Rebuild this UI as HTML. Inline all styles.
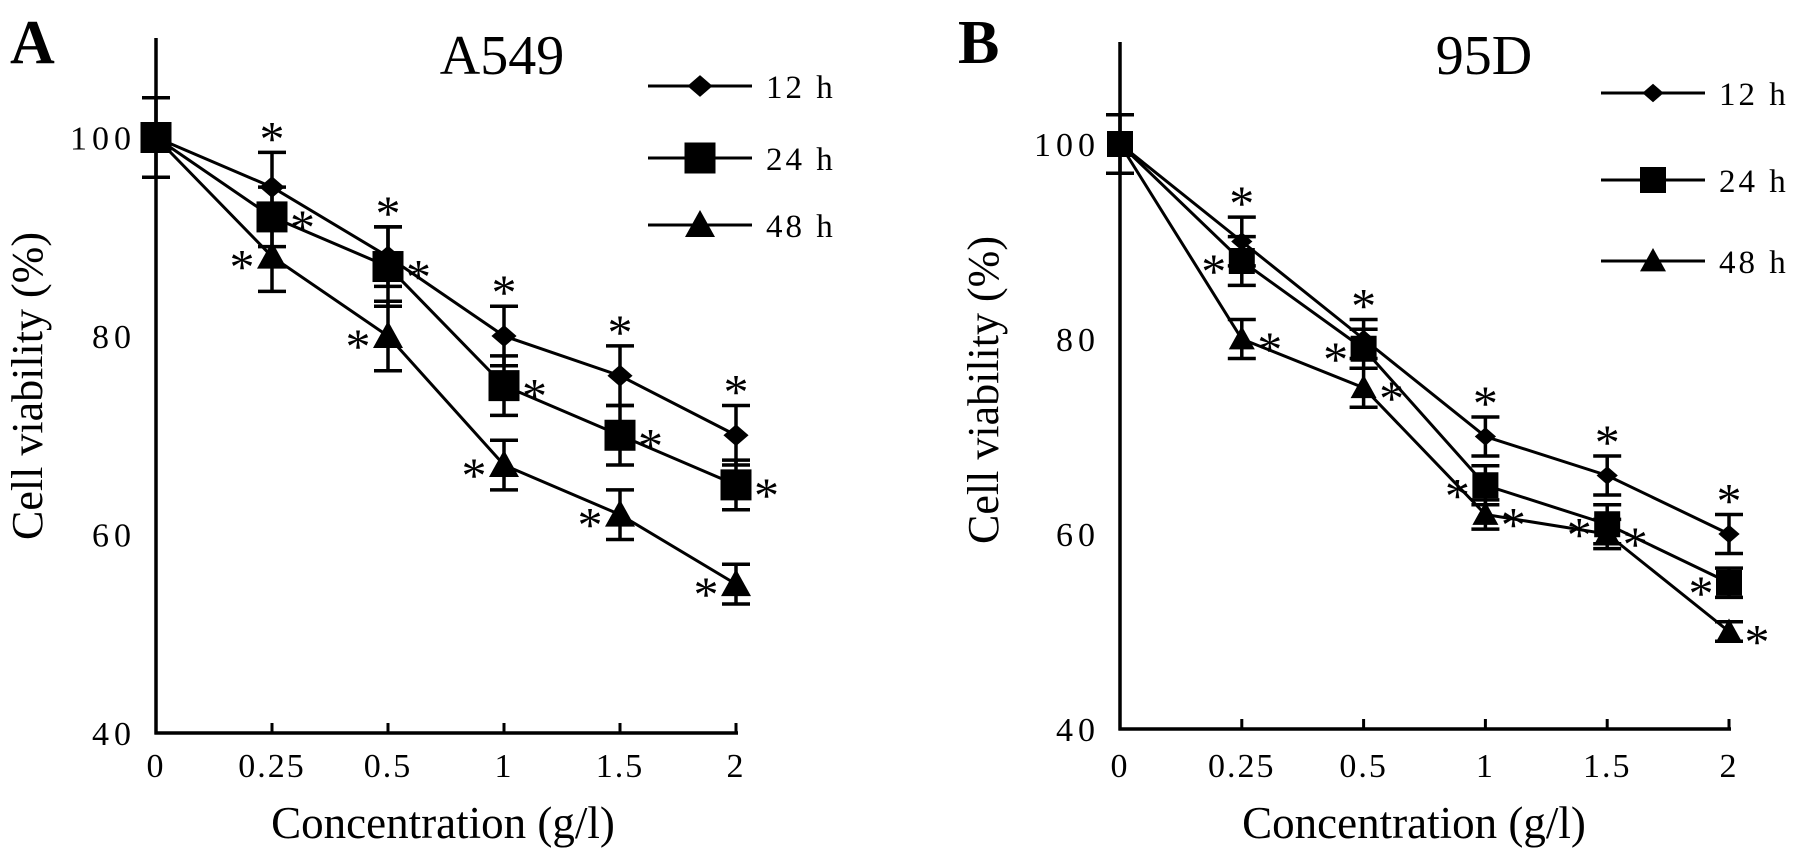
<!DOCTYPE html>
<html><head><meta charset="utf-8">
<style>
html,body{margin:0;padding:0;background:#fff;}
svg{display:block;}
text{font-family:"Liberation Serif",serif;fill:#000;}
</style></head>
<body>
<svg id="fig" width="1795" height="862" viewBox="0 0 1795 862" xmlns="http://www.w3.org/2000/svg"></svg>
<script>
const categories = ["0","0.25","0.5","1","1.5","2"];
const yTicks = [40,60,80,100];
const seriesNames = ["12 h","24 h","48 h"];
// Panel A (A549)
const a12 = [100,95,88,80,76,70];
const a24 = [100,92,87,75,70,65];
const a48 = [100,88,80,67,62,55];
const a12err = [0,3.5,3,3,3,3];
const a24err = [4,3,4,3,3,2.5];
const a48err = [0,3.5,3.5,2.5,2.5,2];
// Panel B (95D)
const b12 = [100,90,80,70,66,60];
const b24 = [100,88,79,65,61,55];
const b48 = [100,80,75,62,60,50];
const b12err = [0,2.5,2,2,2,2];
const b24err = [3,2.5,2,2,2,1.5];
const b48err = [0,2,2,1.5,1.5,1];

const NS="http://www.w3.org/2000/svg";
const svg=document.getElementById('fig');
function mk(tag,attrs,parent){const e=document.createElementNS(NS,tag);for(const k in attrs)e.setAttribute(k,attrs[k]);(parent||svg).appendChild(e);return e;}

function panel(cfg){
  const g=mk('g',{});
  
  
  const x=i=>cfg.x0+i*cfg.dx;
  const y=v=>cfg.yBottom-(v-40)*cfg.per;
  const ax=mk('line',{x1:cfg.x0,y1:cfg.yTop,x2:cfg.x0,y2:cfg.yBottom+1.5,stroke:'#000','stroke-width':3.5},g);
  
  
  const bx=mk('line',{x1:cfg.x0-1.5,y1:cfg.yBottom,x2:x(5)+2,y2:cfg.yBottom,stroke:'#000','stroke-width':3.5},g);
  
  
  categories.forEach((c,i)=>{
    if(i>0) mk('line',{x1:x(i),y1:cfg.yBottom,x2:x(i),y2:cfg.yBottom-10,stroke:'#000','stroke-width':3},g);
    const t=mk('text',{x:x(i),y:777,'font-size':34,'text-anchor':'middle','letter-spacing':2},g);
    t.textContent=c;
    
    
  });
  yTicks.forEach(v=>{
    const t=mk('text',{x:cfg.x0-20,y:y(v)+12,'font-size':34,'text-anchor':'end','letter-spacing':5},g);
    t.textContent=String(v);
    
    
  });
  const yl=mk('text',{x:0,y:0,'font-size':44,'text-anchor':'middle',transform:`translate(${cfg.ylx},${cfg.yly}) rotate(-90)`},g);
  yl.textContent='Cell viability (%)';
  
  
  const xl=mk('text',{x:cfg.xlx,y:838,'font-size':45,'text-anchor':'middle'},g);
  xl.textContent='Concentration (g/l)';
  
  
  const ti=mk('text',{x:cfg.titleX,y:74,'font-size':56,'text-anchor':'middle'},g);
  ti.textContent=cfg.title;
  
  
  const lt=mk('text',{x:cfg.letterX,y:63,'font-size':62,'font-weight':'bold'},g);
  lt.textContent=cfg.letter;
  
  

  const shapes=['diamond','square','triangle'];
  function marker(type,cx,cy,s,parent){
    if(type==='square') return mk('rect',{x:cx-s/2,y:cy-s/2,width:s,height:s,fill:'#000'},parent);
    if(type==='diamond'){const h=s*0.42;return mk('polygon',{points:`${cx},${cy-h} ${cx+h*1.15},${cy} ${cx},${cy+h} ${cx-h*1.15},${cy}`,fill:'#000'},parent);}
    const h=s*0.5;return mk('polygon',{points:`${cx},${cy-h} ${cx+h},${cy+h*0.8} ${cx-h},${cy+h*0.8}`,fill:'#000'},parent);
  }
  cfg.series.forEach((vals,si)=>{
    const sg=mk('g',{},g);
    
    
    const pts=vals.map((v,i)=>x(i)+','+y(v)).join(' ');
    mk('polyline',{points:pts,fill:'none',stroke:'#000','stroke-width':3},sg);
    const errs=cfg.errs[si];
    vals.forEach((v,i)=>{
      const e=errs[i];
      if(e>0){
        const eb=mk('path',{d:`M${x(i)},${y(v+e)}V${y(v-e)}M${x(i)-14},${y(v+e)}H${x(i)+14}M${x(i)-14},${y(v-e)}H${x(i)+14}`,stroke:'#000','stroke-width':3.5,fill:'none'},sg);
        
        
      }
      const m=marker(shapes[si],x(i),y(v),cfg.ms[si],sg);
      
      
      if(i>0){
        const side=cfg.starSide[si];
        let sx=x(i),cy=y(v);
        if(side==='top'){cy=y(v+e)-24;}
        else if(side==='right'){sx=x(i)+cfg.ms[si]/2+15;}
        else {sx=x(i)-cfg.ms[si]/2-15;}
        const st=mk('text',{x:sx,y:cy+27,'font-size':50,'text-anchor':'middle','font-family':'Liberation Sans, sans-serif'},sg);
        st.textContent='*';
        
        
      }
    });
  });
  cfg.legendY.forEach((ly,si)=>{
    const lg=mk('g',{},g);
    
    
    mk('line',{x1:cfg.legX1,y1:ly,x2:cfg.legX2,y2:ly,stroke:'#000','stroke-width':3},lg);
    marker(shapes[si],(cfg.legX1+cfg.legX2)/2,ly,cfg.ms[si],lg);
    const t=mk('text',{x:cfg.legX2+14,y:ly+12,'font-size':33,'letter-spacing':3},lg);
    t.textContent=seriesNames[si];
  });
}

panel({name:'panel-a549',x0:156,dx:116,yBottom:733,yTop:38,per:198.5/20,
  ylx:42,yly:386,xlx:443,titleX:502,title:'A549',letterX:10,letter:'A',
  series:[a12,a24,a48],errs:[a12err,a24err,a48err],ms:[26,31,30],
  starSide:['top','right','left'],legendY:[86,158,225],legX1:648,legX2:752});
panel({name:'panel-95d',x0:1120,dx:121.8,yBottom:729,yTop:42,per:195/20,
  ylx:998,yly:390,xlx:1414,titleX:1484,title:'95D',letterX:958,letter:'B',
  series:[b12,b24,b48],errs:[b12err,b24err,b48err],ms:[22,26,26],
  starSide:['top','left','right'],legendY:[93,180,261],legX1:1601,legX2:1705});
</script>
</body></html>
